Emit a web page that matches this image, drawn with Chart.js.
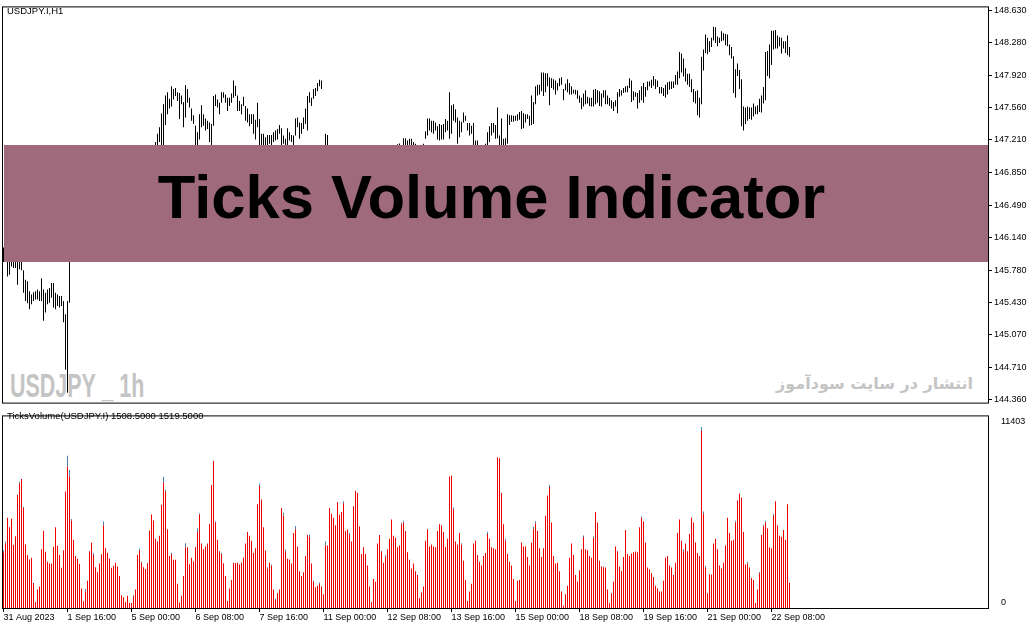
<!DOCTYPE html>
<html><head><meta charset="utf-8">
<script src="https://cdn.jsdelivr.net/npm/chart.js@4.4.0/dist/chart.umd.min.js"></script>
<style>
html,body{margin:0;padding:0;background:#fff;}
#wrap{position:relative;width:1035px;height:629px;overflow:hidden;background:#fff;}
canvas{position:absolute;left:0;}
#cPrice{top:0;}
#cVol{top:406px;}
.lbl{position:absolute;font-family:'Liberation Sans',Arial,sans-serif;font-size:9.5px;line-height:11px;color:#000;white-space:nowrap;}
.wm{position:absolute;white-space:nowrap;color:#c4c4c4;}
#wmSym{left:10px;top:369px;font:bold 33px/33px 'Liberation Sans',Arial,sans-serif;transform:scaleX(0.65);transform-origin:0 0;}
#wmFa{right:62px;top:376px;font:bold 16px/16px 'DejaVu Sans',sans-serif;direction:rtl;}
#banner{position:absolute;left:4px;top:145px;width:984px;height:117px;background:#9e6a7c;}
#banner span{display:block;height:117px;text-align:center;padding-right:9px;font:bold 61.5px 'Liberation Sans',Arial,sans-serif;line-height:103px;color:#000;}
</style></head>
<body><div id="wrap">
<div class="wm" id="wmSym">USDJPY _ 1h</div>
<div class="wm" id="wmFa">انتشار در سایت سودآموز</div>
<canvas id="cPrice" width="1035" height="410"></canvas>
<canvas id="cVol" width="1035" height="223"></canvas>
<div id="banner"><span>Ticks Volume Indicator</span></div>
<div class="lbl" style="left:7px;top:5px">USDJPY.I,H1</div>
<div class="lbl" style="left:7px;top:410px">TicksVolume(USDJPY.I) 1508.5000 1519.5000</div>
</div>
<script>
// ---------- data ----------
const priceTicks = [148.630,148.280,147.920,147.560,147.210,146.850,146.490,146.140,145.780,145.430,145.070,144.710,144.360];
const priceMin = 144.328, priceMax = 148.662;
const volTicks = [0, 11403];
const volMax = 12067;
const xTickIdx = [0,32,64,96,128,160,192,224,256,288,320,352,384];
const xTickLabels = ["31 Aug 2023","1 Sep 16:00","5 Sep 00:00","6 Sep 08:00","7 Sep 16:00","11 Sep 00:00","12 Sep 08:00","13 Sep 16:00","15 Sep 00:00","18 Sep 08:00","19 Sep 16:00","21 Sep 00:00","22 Sep 08:00"];
const xMin = -0.75, xMax = 492.25;

const highs = [
146.03,146.08,145.95,145.93,145.96,145.98,145.95,145.92,145.90,145.88,
145.78,145.675,145.658,145.55,145.514,145.539,145.55,145.568,145.55,145.693,
145.568,145.532,145.568,145.586,145.64,145.64,145.532,145.514,145.496,145.496,
145.442,145.298,145.442,146.55,146.62,146.70,146.74,146.71,146.66,146.63,
146.68,146.75,146.80,146.78,146.72,146.70,146.66,146.64,146.62,146.60,
146.58,146.60,146.63,146.66,146.70,146.72,146.74,146.76,146.75,146.78,
146.80,146.78,146.76,146.74,146.72,146.76,146.80,146.85,146.90,146.88,
146.86,146.90,146.95,147.00,147.05,147.12,147.185,147.275,147.347,147.498,
147.599,147.696,147.732,147.66,147.796,147.768,147.778,147.732,147.724,147.696,
147.624,147.811,147.768,147.671,147.552,147.48,147.365,147.293,147.491,147.588,
147.491,147.444,147.419,147.401,147.383,147.689,147.707,147.653,147.617,147.732,
147.732,147.707,147.671,147.671,147.717,147.861,147.804,147.696,147.635,147.599,
147.681,147.581,147.552,147.491,147.491,147.491,147.43,147.617,147.437,147.275,
147.275,147.239,147.264,147.264,147.264,147.293,147.311,147.329,147.372,147.336,
147.257,147.221,147.336,147.293,147.264,147.257,147.444,147.455,147.401,147.394,
147.455,147.552,147.689,147.732,147.671,147.768,147.778,147.832,147.868,147.861,
147.15,147.275,147.264,147.142,147.10,147.08,147.05,147.02,147.00,146.98,
147.02,147.06,147.08,147.05,147.02,146.98,146.95,146.93,146.96,147.00,
147.03,147.06,147.09,147.12,147.10,147.08,147.05,147.03,147.06,147.09,
147.12,147.15,147.13,147.10,147.08,147.11,147.14,147.16,147.17,147.149,
147.228,147.228,147.203,147.221,147.221,147.185,147.167,147.12,147.10,147.13,
147.167,147.304,147.444,147.444,147.419,147.419,147.401,147.358,147.383,147.372,
147.383,147.437,147.419,147.732,147.588,147.599,147.545,147.455,147.419,147.408,
147.509,147.473,147.394,147.394,147.365,147.394,147.203,147.203,147.12,147.149,
147.149,147.167,147.293,147.358,147.394,147.394,147.372,147.563,147.257,147.444,
147.221,147.228,147.491,147.48,147.48,147.473,147.473,147.491,147.516,147.527,
147.502,147.491,147.491,147.473,147.696,147.624,147.796,147.814,147.814,147.947,
147.947,147.94,147.94,147.897,147.886,147.875,147.861,147.832,147.886,147.897,
147.768,147.825,147.875,147.832,147.796,147.76,147.76,147.753,147.696,147.671,
147.717,147.753,147.681,147.671,147.671,147.76,147.768,147.753,147.742,147.717,
147.753,147.753,147.696,147.671,147.645,147.624,147.645,147.732,147.768,147.753,
147.778,147.796,147.804,147.886,147.861,147.742,147.732,147.724,147.753,147.796,
147.832,147.789,147.85,147.85,147.868,147.911,147.875,147.861,147.789,147.789,
147.778,147.814,147.84,147.85,147.85,147.85,147.922,147.958,148.174,148.156,
148.102,147.994,147.933,147.933,147.875,147.768,147.742,147.753,147.671,148.12,
148.199,148.364,148.328,148.292,148.328,148.451,148.443,148.343,148.328,148.40,
148.379,148.371,148.364,148.256,148.228,148.127,147.983,148.048,147.976,147.875,
147.574,147.563,147.574,147.563,147.563,147.609,147.574,147.588,147.66,147.696,
147.789,148.174,148.185,148.256,148.407,148.407,148.415,148.353,148.336,148.328,
148.292,148.292,148.353,148.228];

const lows = [
145.87,145.90,145.711,145.73,145.82,145.805,145.805,145.62,145.79,145.78,
145.532,145.442,145.417,145.352,145.406,145.442,145.46,145.46,145.442,145.442,
145.226,145.316,145.406,145.424,145.478,145.37,145.352,145.388,145.37,145.388,
145.208,144.687,144.435,145.424,146.35,146.52,146.60,146.58,146.52,146.50,
146.55,146.60,146.66,146.64,146.60,146.58,146.55,146.54,146.52,146.50,
146.46,146.50,146.52,146.55,146.58,146.61,146.63,146.65,146.64,146.66,
146.68,146.67,146.65,146.63,146.60,146.62,146.66,146.70,146.75,146.74,
146.72,146.76,146.80,146.85,146.90,146.96,147.05,147.10,147.185,147.10,
147.13,147.372,147.491,147.552,147.574,147.653,147.689,147.635,147.437,147.599,
147.347,147.455,147.617,147.563,147.419,147.383,147.10,147.08,147.214,147.347,
147.365,147.311,147.329,147.185,147.09,147.365,147.581,147.563,147.491,147.617,
147.671,147.617,147.527,147.581,147.617,147.671,147.689,147.527,147.527,147.491,
147.581,147.419,147.401,147.358,147.383,147.275,147.214,147.347,147.10,147.05,
147.13,147.08,147.149,147.167,147.149,147.185,147.203,147.214,147.275,147.10,
147.167,147.07,147.11,147.203,147.185,147.13,147.257,147.347,147.221,147.275,
147.329,147.383,147.311,147.617,147.581,147.66,147.689,147.742,147.796,147.768,
146.95,147.05,147.06,147.00,146.96,146.95,146.92,146.90,146.86,146.85,
146.88,146.92,146.95,146.93,146.90,146.86,146.82,146.80,146.83,146.86,
146.90,146.93,146.96,146.98,146.97,146.95,146.93,146.91,146.93,146.96,
146.99,147.02,147.00,146.98,146.96,146.98,147.01,147.03,147.04,147.05,
147.06,147.149,147.10,147.157,147.142,147.10,147.08,147.00,146.98,147.02,
147.05,147.221,147.257,147.311,147.293,147.275,147.311,147.214,147.203,147.214,
147.214,147.293,147.311,147.221,147.275,147.419,147.401,147.167,147.239,147.293,
147.401,147.419,147.311,147.257,147.275,147.10,147.05,147.06,147.00,147.04,
147.10,147.06,147.13,147.185,147.257,147.286,147.221,147.228,147.05,147.13,
147.06,147.149,147.167,147.372,147.408,147.408,147.419,147.419,147.43,147.329,
147.336,147.401,147.437,147.365,147.372,147.383,147.599,147.696,147.707,147.742,
147.689,147.732,147.796,147.588,147.778,147.76,147.707,147.753,147.796,147.814,
147.645,147.753,147.732,147.707,147.707,147.717,147.707,147.66,147.617,147.545,
147.574,147.599,147.609,147.581,147.574,147.574,147.599,147.617,147.581,147.574,
147.671,147.599,147.599,147.581,147.552,147.527,147.574,147.502,147.681,147.696,
147.724,147.732,147.732,147.778,147.624,147.645,147.681,147.552,147.617,147.645,
147.617,147.681,147.753,147.796,147.778,147.804,147.768,147.789,147.717,147.717,
147.689,147.671,147.707,147.76,147.768,147.778,147.814,147.814,147.886,147.947,
147.904,147.85,147.814,147.789,147.732,147.624,147.609,147.48,147.455,147.599,
147.969,148.163,148.149,148.174,148.228,148.30,148.271,148.235,148.271,148.292,
148.30,148.246,148.235,148.138,148.102,147.724,147.671,147.911,147.768,147.358,
147.311,147.383,147.419,147.437,147.43,147.466,147.491,147.491,147.516,147.509,
147.609,147.645,147.911,147.886,148.03,148.199,148.21,148.21,148.235,148.156,
148.21,148.163,148.138,148.12];

const tickVolume = [
3519,4062,5691,5088,5631,3982,4525,7139,7843,8124,
6294,4002,3318,3057,3157,1569,382,1166,1347,3700,
4867,3539,2916,2795,2795,3861,5088,3921,3338,2534,
3640,7340,8889,8285,5490,4304,3278,3097,2775,1227,
422,1046,1709,3580,4123,3358,2574,2252,2795,3378,
5208,3761,3479,3117,2534,2655,2856,2614,2011,804,
684,382,764,322,322,744,1166,3338,3640,2856,
2574,2453,2815,4887,5892,5510,4364,4183,4545,6496,
7923,7320,4967,3278,3399,3037,3037,1528,342,764,
2011,3821,3821,2755,3157,2936,3821,4786,5892,4062,
3700,3881,4062,5289,7742,9251,5389,4304,3580,3399,
2815,2011,442,1227,1770,2856,2836,2856,2735,2856,
3157,4062,4786,4545,4243,3479,3761,6536,7682,6837,
5088,3620,2494,2856,2655,1166,503,945,1166,6294,
5812,3580,3097,3057,2795,4726,4967,3881,2313,2011,
2252,3278,4605,4485,2795,1649,1307,1408,1528,1347,
865,3942,3942,6294,5932,5691,5208,6656,5872,6053,
6596,4826,4947,4605,4183,6415,7380,7260,5128,3399,
3821,3399,2675,1347,382,1830,1649,4062,4605,3580,
2856,3218,3700,4364,5570,4545,4424,3821,3942,5269,
5389,4847,3519,3037,2494,2795,2313,2071,623,985,
1347,4243,4967,3881,4002,3881,3821,4847,5269,5208,
4786,3821,4364,8285,8346,6214,4183,4002,4726,4002,
2976,1770,442,1046,1528,4062,4243,3338,2916,2675,
3278,3459,4666,4364,3821,3761,3700,9492,9432,7260,
5269,4243,3399,2916,2675,1830,442,1709,1770,4123,
3881,3881,3218,2675,4123,4967,5329,4847,3761,3218,
3761,5812,7079,7622,5389,3278,2795,2856,2313,1046,
141,865,1408,3157,4062,3338,2071,1649,2373,3700,
4464,3700,3640,3278,3157,4424,6053,5389,2976,2614,
2554,2554,1166,302,925,1649,3881,3580,2614,2313,
3218,4907,3399,3278,3439,3519,3559,3519,5088,5691,
5450,4123,2554,2433,2192,1951,1408,1227,1046,1046,
1709,3157,3278,2675,2554,2071,2856,4726,5570,4243,
3580,4062,3580,4666,5691,5389,4123,3459,3278,11160,
5932,2554,925,2112,2112,4062,4364,3700,2675,2494,
2856,3942,5691,4726,4243,4304,5389,6777,7199,6958,
4786,2735,2795,2554,1890,1770,322,1166,2192,4605,
5148,5389,5028,3821,3761,5812,6717,5208,4545,4485,
4907,4304,6536,1589];

// second buffer: bars where it sticks out above the red one (blue tip)
const capIndex = [0,1,8,10,32,33,34,41,45,50,65,68,69,80,81,84,91,97,98,106,109,128,132,134,136,140,141,146,153,155,158,161,170,173,191,199,200,225,229,242,251,265,266,273,290,295,300,319,340,349,350,351,366,372,378,380,381,385];
const capSize  = [120,120,120,80,700,400,120,150,100,240,80,100,80,340,140,80,260,240,80,80,80,140,80,80,80,180,100,200,160,80,80,260,120,120,100,100,100,120,80,140,120,160,140,140,100,100,80,80,120,243,140,100,100,120,80,100,100,120];

// ---------- chart ----------
Chart.defaults.font.family = "'Liberation Sans', Arial, sans-serif";
Chart.defaults.font.size = 9;
Chart.defaults.color = '#000';
Chart.defaults.animation = false;

const framePlugin = {
  id: 'frame',
  afterDraw(chart) {
    const {ctx, chartArea: a} = chart;
    ctx.save();
    ctx.strokeStyle = '#000';
    ctx.lineWidth = 1;
    ctx.strokeRect(a.left + 0.5, a.top - 0.5, a.right - a.left, a.bottom - a.top + 1);
    ctx.restore();
  }
};

const pricePoints = highs.map((h, i) => ({x: i, y: [lows[i], h]}));

new Chart(document.getElementById('cPrice'), {
  type: 'bar',
  data: { datasets: [{
    data: pricePoints, backgroundColor: '#000', borderWidth: 0,
    barThickness: 1, inflateAmount: 0
  }]},
  options: {
    responsive: false, animation: false, events: [],
    layout: { padding: { left: 2, top: 3, right: 0, bottom: 5 } },
    plugins: { legend: { display: false }, tooltip: { enabled: false } },
    scales: {
      x: { type: 'linear', display: false, offset: false, grid: { offset: false }, min: xMin, max: xMax, bounds: 'data' },
      y: {
        type: 'linear', position: 'right', min: priceMin, max: priceMax, bounds: 'data',
        afterBuildTicks: s => { s.ticks = priceTicks.map(v => ({value: v})); },
        afterFit: s => { s.width = 47; },
        border: { display: false },
        grid: { display: true, drawOnChartArea: false, drawTicks: true, tickLength: 4, color: '#000' },
        ticks: { padding: 2, font: { size: 9 }, color: '#000', callback: v => Number(v).toFixed(3) }
      }
    }
  },
  plugins: [framePlugin]
});

const capArr = tickVolume.map(() => 0);
capIndex.forEach((ix, k) => { capArr[ix] = capSize[k]; });
const redPts = tickVolume.map((v, i) => ({x: i, y: v}));
const bluePts = capArr.map((c, i) => ({x: i, y: c}));

new Chart(document.getElementById('cVol'), {
  type: 'bar',
  data: { datasets: [
    { data: redPts, backgroundColor: '#ee0000', borderWidth: 0, barThickness: 1, inflateAmount: 0 },
    { data: bluePts, backgroundColor: '#4f7fb0', borderWidth: 0, barThickness: 1, inflateAmount: 0 }
  ]},
  options: {
    responsive: false, animation: false, events: [],
    layout: { padding: { left: 2, top: 2, right: 0, bottom: 0 } },
    plugins: { legend: { display: false }, tooltip: { enabled: false } },
    scales: {
      x: {
        type: 'linear', stacked: true, offset: false, min: xMin, max: xMax, bounds: 'data',
        afterBuildTicks: s => { s.ticks = xTickIdx.map(v => ({value: v})); },
        afterFit: s => { s.height = 21; },
        border: { display: false },
        grid: { display: true, offset: false, drawOnChartArea: false, drawTicks: true, tickLength: 4, color: '#000' },
        ticks: { autoSkip: false, maxRotation: 0, minRotation: 0, align: 'start', padding: 0,
                 font: { size: 9 }, color: '#000',
                 callback: v => { const k = xTickIdx.indexOf(v); return k < 0 ? '' : xTickLabels[k]; } }
      },
      y: {
        type: 'linear', stacked: true, position: 'right', min: 0, max: volMax, bounds: 'data',
        afterBuildTicks: s => { s.ticks = volTicks.map(v => ({value: v})); },
        afterFit: s => { s.width = 47; },
        border: { display: false },
        grid: { display: false },
        ticks: { padding: 5, labelOffset: -5, font: { size: 9 }, color: '#000', callback: v => String(v) }
      }
    }
  },
  plugins: [framePlugin]
});
</script>
</body></html>
